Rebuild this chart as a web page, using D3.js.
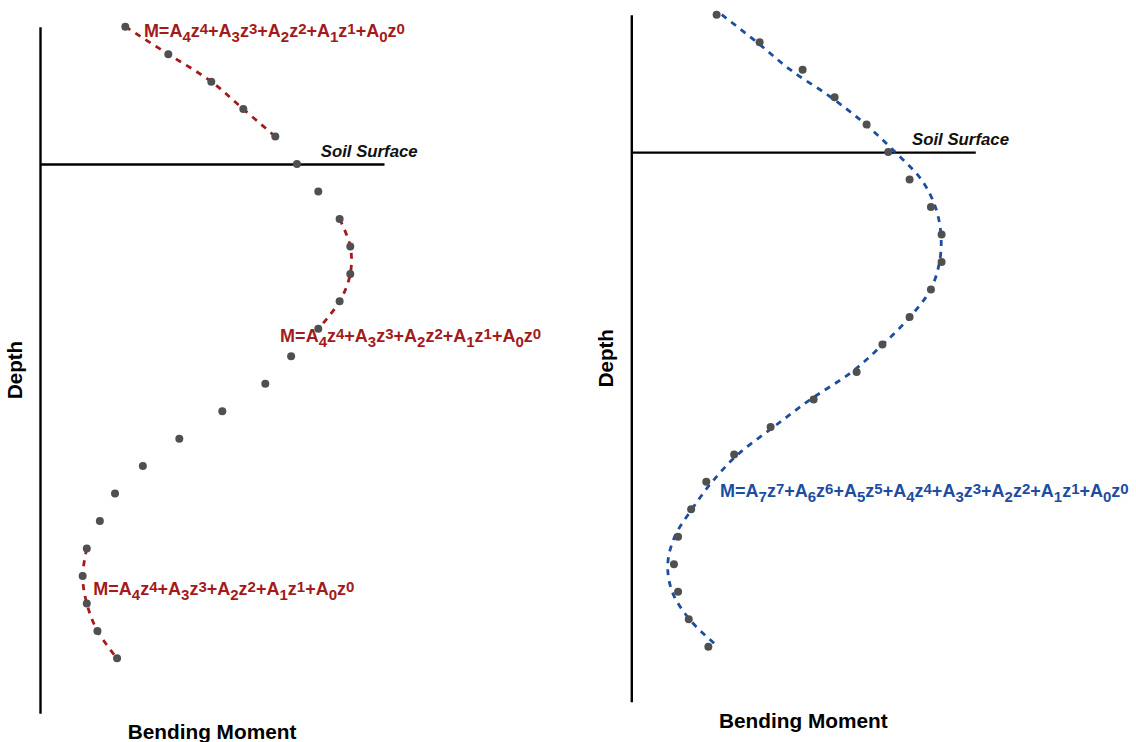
<!DOCTYPE html>
<html>
<head>
<meta charset="utf-8">
<script src="https://cdn.jsdelivr.net/npm/d3@7"></script>
<style>
  html, body { margin: 0; padding: 0; background: #fff; }
  svg { display: block; }
</style>
</head>
<body>
<svg id="chart" width="1136" height="742"></svg>
<script>
// ---------------- data ----------------
// depth index (soil surface = 0, negative = above ground)
const depths = [-5, -4, -3, -2, -1, 0, 1, 2, 3, 4, 5, 6, 7, 8, 9, 10, 11, 12, 13, 14, 15, 16, 17, 18];
// measured bending moment (arbitrary units, axis = 0)
const moments = [24.8, 37.3, 49.8, 59.1, 68.4, 74.7, 80.9, 87.1, 90.2, 90.2, 87.1, 80.9,
                 73.0, 65.5, 53.0, 40.5, 29.9, 21.8, 17.4, 13.6, 12.4, 13.6, 16.7, 22.4];
// depth ranges of the three 4th-order fits (left panel)
const quarticFitRanges = [[-5, -1], [2, 6], [14, 18]];
const quarticPowers = [4, 3, 2, 1, 0];
// anchor [moment, depth] of each 4th-order equation label
const quarticLabelMoment = [30.2, 69.8, 15.5];
const quarticLabelDepth = [-4.64, 6.47, 15.7];
// 7th-order fit
const septicFitDepth = [-5, -4, -3, -2, -1, 0, 1, 2, 3, 4, 5, 6, 7, 8, 9, 10, 11, 12, 13, 14, 15, 16, 17, 17.9];
const septicFitMoment = [26.3, 36.5, 46.2, 58.0, 68.2, 76.7, 84.3, 88.4, 90.0, 89.6, 87.0, 81.0,
                         73.1, 64.1, 52.1, 41.4, 31.0, 23.5, 17.6, 12.6, 10.6, 11.9, 16.9, 24.3];
const septicPowers = [7, 6, 5, 4, 3, 2, 1, 0];
const septicLabelMoment = 25.8;
const septicLabelDepth = 12.56;
// text
const xTitle = "Bending Moment";
const yTitle = "Depth";
const soilLabel = "Soil Surface";
const soilLabelMoment = 81.6;
const soilLabelDepth = -0.25;

// ---------------- layout ----------------
const svg = d3.select("#chart");
const FONT = "'Liberation Sans', Arial, Helvetica, sans-serif";
const RED = "#a31a1a";
const BLUE = "#1c4da0";
const DOT = "#505050";

const panels = [
  { left: 40, top: 26.7, bottom: 713.3, fit: "quartic" },
  { left: 631.3, top: 14.7, bottom: 701.7, fit: "septic" }
];

const points = depths.map((d, i) => ({ depth: d, moment: moments[i] }));

function equation(g, x, y, powers, color) {
  const t = g.append("text")
    .attr("x", x).attr("y", y)
    .attr("font-family", FONT)
    .attr("font-weight", "bold")
    .attr("font-size", 18)
    .attr("fill", color);
  t.append("tspan").text("M=");
  powers.forEach((p, i) => {
    t.append("tspan").text("A");
    t.append("tspan").attr("dy", 5).attr("font-size", 15).text(p);
    t.append("tspan").attr("dy", -5).text("z");
    t.append("tspan").attr("dy", -3).attr("font-size", 15).text(p);
    t.append("tspan").attr("dy", 3).text(i < powers.length - 1 ? "+" : "");
  });
}

panels.forEach(P => {
  const x = d3.scaleLinear().domain([0, 100]).range([P.left, P.left + 344]);
  const y = d3.scaleLinear().domain([-5, 20]).range([P.top, P.bottom]);
  const g = svg.append("g");

  // vertical (depth) axis line
  g.append("g")
    .attr("transform", `translate(${x(0)},0)`)
    .call(d3.axisLeft(y).ticks(0).tickSizeOuter(0))
    .call(s => s.select(".domain").attr("stroke", "#000").attr("stroke-width", 2.4));

  // soil surface line
  g.append("g")
    .attr("transform", `translate(0,${y(0)})`)
    .call(d3.axisBottom(x).ticks(0).tickSizeOuter(0))
    .call(s => s.select(".domain").attr("stroke", "#000").attr("stroke-width", 2.4));

  g.append("text")
    .attr("x", x(soilLabelMoment)).attr("y", y(soilLabelDepth))
    .attr("font-family", FONT).attr("font-weight", "bold").attr("font-style", "italic")
    .attr("font-size", 16.8).attr("fill", "#111")
    .text(soilLabel);

  // axis titles
  g.append("text")
    .attr("x", x(50)).attr("y", P.bottom + 26)
    .attr("text-anchor", "middle")
    .attr("font-family", FONT).attr("font-weight", "bold").attr("font-size", 20.8)
    .attr("fill", "#000")
    .text(xTitle);
  g.append("text")
    .attr("transform", `translate(${x(0) - 18},${(P.top + P.bottom) / 2}) rotate(-90)`)
    .attr("text-anchor", "middle")
    .attr("font-family", FONT).attr("font-weight", "bold").attr("font-size", 20.5)
    .attr("fill", "#000")
    .text(yTitle);

  const line = d3.line()
    .x(d => x(d.moment)).y(d => y(d.depth));

  if (P.fit === "quartic") {
    quarticFitRanges.forEach(([a, b]) => {
      const seg = points.filter(p => p.depth >= a && p.depth <= b);
      g.append("path")
        .datum(seg)
        .attr("d", line.curve(d3.curveCatmullRom.alpha(0.5)))
        .attr("fill", "none")
        .attr("stroke", RED).attr("stroke-width", 2.8)
        .attr("stroke-dasharray", "6,6");
    });
  } else {
    const fit = septicFitDepth.map((d, i) => ({ depth: d, moment: septicFitMoment[i] }));
    g.append("path")
      .datum(fit)
      .attr("d", line.curve(d3.curveCatmullRom.alpha(0.5)))
      .attr("fill", "none")
      .attr("stroke", BLUE).attr("stroke-width", 2.8)
      .attr("stroke-dasharray", "6,6");
  }

  // measured points
  g.append("g").selectAll("circle")
    .data(points)
    .join("circle")
    .attr("cx", d => x(d.moment))
    .attr("cy", d => y(d.depth))
    .attr("r", 4)
    .attr("fill", DOT);

  // equation labels
  if (P.fit === "quartic") {
    quarticLabelMoment.forEach((m, i) => {
      equation(g, x(m), y(quarticLabelDepth[i]), quarticPowers, RED);
    });
  } else {
    equation(g, x(septicLabelMoment), y(septicLabelDepth), septicPowers, BLUE);
  }
});
</script>
</body>
</html>
